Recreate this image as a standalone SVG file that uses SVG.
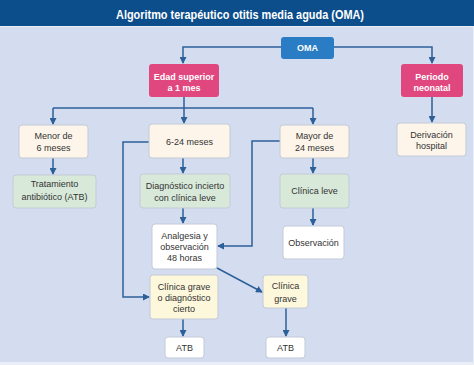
<svg xmlns="http://www.w3.org/2000/svg" width="474" height="365" viewBox="0 0 474 365">
<defs>
<style>
.t{font-family:"Liberation Sans",Arial,sans-serif;font-size:9px;fill:#333;text-anchor:middle}
.w{fill:#fff;font-weight:bold}
.b{stroke:#c3cad6;stroke-width:1}
.cream{fill:#fdf5ea}
.green{fill:#d8e9da}
.yel{fill:#fdf7dc}
.wh{fill:#ffffff}
.c{fill:none;stroke:#2d5f99;stroke-width:1.5}
</style>
<marker id="a" markerUnits="userSpaceOnUse" markerWidth="7" markerHeight="7" refX="6" refY="3.5" orient="auto">
<path d="M0,0 L7,3.5 L0,7 Z" fill="#2d5f99"/>
</marker>
</defs>
<rect x="0" y="0" width="474" height="365" fill="#e9eef7"/>
<rect x="0" y="27" width="473" height="335" fill="#d4ddf0"/>
<rect x="0" y="0" width="474" height="26" fill="#0c4d8b"/>
<text x="240" y="18.5" font-family="'Liberation Sans',Arial,sans-serif" font-size="12.5" font-weight="bold" fill="#fff" text-anchor="middle" textLength="248" lengthAdjust="spacingAndGlyphs">Algoritmo terapéutico otitis media aguda (OMA)</text>

<g id="connectors">
<path class="c" d="M281,47 H183 V63" marker-end="url(#a)"/>
<path class="c" d="M334,47 H432 V63" marker-end="url(#a)"/>
<path class="c" d="M184,97 V108 M53,108 H313"/>
<path class="c" d="M53,108 V124" marker-end="url(#a)"/>
<path class="c" d="M184,108 V123" marker-end="url(#a)"/>
<path class="c" d="M313,108 V124" marker-end="url(#a)"/>
<path class="c" d="M432,97 V122" marker-end="url(#a)"/>
<path class="c" d="M53,158 V174" marker-end="url(#a)"/>
<path class="c" d="M183,158 V173" marker-end="url(#a)"/>
<path class="c" d="M183,208 V223" marker-end="url(#a)"/>
<path class="c" d="M149,142 H123 V297 H149" marker-end="url(#a)"/>
<path class="c" d="M313,158 V173" marker-end="url(#a)"/>
<path class="c" d="M313,208 V225" marker-end="url(#a)"/>
<path class="c" d="M280,141 H252 V246 H218" marker-end="url(#a)"/>
<path class="c" d="M217,268 L262,292" marker-end="url(#a)"/>
<path class="c" d="M183,319 V336" marker-end="url(#a)"/>
<path class="c" d="M286,308 V336" marker-end="url(#a)"/>
</g>

<g id="oma"><rect x="281" y="37" width="53" height="22" rx="3" fill="#2a7cc4"/><text class="t w" x="307.5" y="51">OMA</text></g>
<g id="edad"><rect x="149" y="64" width="70" height="33" rx="3" fill="#e1477f"/><text class="t w" x="184" y="80">Edad superior</text><text class="t w" x="184" y="91">a 1 mes</text></g>
<g id="periodo"><rect x="401" y="64" width="62" height="33" rx="3" fill="#e1477f"/><text class="t w" x="432" y="80">Periodo</text><text class="t w" x="432" y="91">neonatal</text></g>
<g id="menor"><rect class="cream b" x="19" y="125" width="69" height="33" rx="3"/><text class="t" x="53.5" y="139">Menor de</text><text class="t" x="53.5" y="151">6 meses</text></g>
<g id="tratamiento"><rect class="green b" x="13" y="175" width="83" height="33" rx="3"/><text class="t" x="54.5" y="187">Tratamiento</text><text class="t" x="54.5" y="200">antibiótico (ATB)</text></g>
<g id="m6-24"><rect class="cream b" x="149" y="124" width="81" height="34" rx="3"/><text class="t" x="189.5" y="145">6-24 meses</text></g>
<g id="diagnostico"><rect class="green b" x="140" y="174" width="90" height="34" rx="3"/><text class="t" x="185" y="189">Diagnóstico incierto</text><text class="t" x="185" y="200.5">con clínica leve</text></g>
<g id="analgesia"><rect class="wh b" x="152" y="224" width="65" height="45" rx="3"/><text class="t" x="184.5" y="239">Analgesia y</text><text class="t" x="184.5" y="250">observación</text><text class="t" x="184.5" y="261">48 horas</text></g>
<g id="grave1"><rect class="yel b" x="150" y="275" width="68" height="44" rx="3"/><text class="t" x="184" y="290">Clínica grave</text><text class="t" x="184" y="301">o diagnóstico</text><text class="t" x="184" y="312">cierto</text></g>
<g id="atb1"><rect class="wh b" x="165" y="337" width="39" height="21" rx="3"/><text class="t" x="184.5" y="351">ATB</text></g>
<g id="mayor"><rect class="cream b" x="280" y="125" width="69" height="33" rx="3"/><text class="t" x="314.5" y="139">Mayor de</text><text class="t" x="314.5" y="151">24 meses</text></g>
<g id="leve"><rect class="green b" x="280" y="174" width="69" height="34" rx="3"/><text class="t" x="314.5" y="194">Clínica leve</text></g>
<g id="observacion"><rect class="wh b" x="283" y="226" width="61" height="33" rx="3"/><text class="t" x="313.5" y="246">Observación</text></g>
<g id="derivacion"><rect class="cream b" x="397" y="123" width="69" height="33" rx="3"/><text class="t" x="431.5" y="138">Derivación</text><text class="t" x="431.5" y="149">hospital</text></g>
<g id="grave2"><rect class="yel b" x="263" y="275" width="45" height="33" rx="3"/><text class="t" x="285.5" y="289">Clínica</text><text class="t" x="285.5" y="302">grave</text></g>
<g id="atb2"><rect class="wh b" x="266" y="337" width="39" height="21" rx="3"/><text class="t" x="285.5" y="351">ATB</text></g>
</svg>
